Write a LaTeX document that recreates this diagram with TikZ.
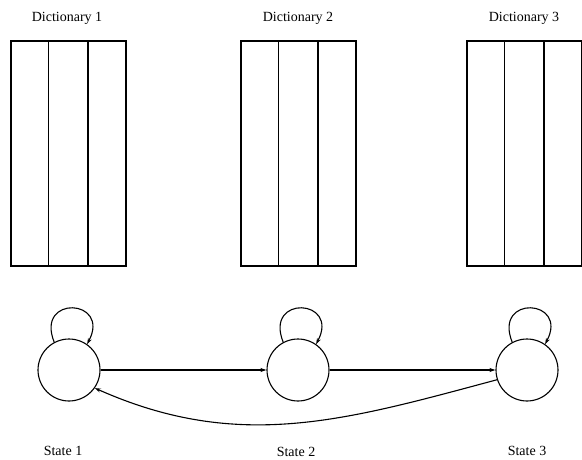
\documentclass[tikz,border=0pt]{standalone}
\usepackage{fontspec}
\setmainfont{Liberation Serif}
\usetikzlibrary{arrows.meta}
\begin{document}
\begin{tikzpicture}[x=1pt,y=-1pt,
  dict/.style={draw, line width=1.1pt},
  state/.style={draw, circle, line width=1.1pt, minimum size=62pt, inner sep=0pt},
  lbl/.style={font=\fontsize{14}{16}\selectfont, inner sep=0pt},
  arr/.style={line width=1.1pt, -{Stealth[length=6pt,width=4pt]}}]
\useasboundingbox (0,0) rectangle (582,460);
% dictionaries
\foreach \x/\n in {11/1,241/2,467/3}{
  \draw[dict] (\x,41) rectangle ++(115,225);
  \draw[dict] (\x+37.5,41) -- ++(0,225);
  \draw[dict] (\x+77,41) -- ++(0,225);
}
\node[lbl] (d1) at (67,18) {Dictionary 1};
\node[lbl] (d2) at (298,18) {Dictionary 2};
\node[lbl] (d3) at (524,18) {Dictionary 3};
% states
\node[state] (s1) at (69,370) {};
\node[state] (s2) at (298,370) {};
\node[state] (s3) at (527,370) {};
\node[lbl] (l1) at (63,451) {State 1};
\node[lbl] (l2) at (296,452) {State 2};
\node[lbl] (l3) at (527,451) {State 3};
% connectors
\draw[arr] (s1) -- (s2);
\draw[arr] (s2) -- (s3);
\draw[arr] (s3.198) to[out=195, in=-24] (s1.-35);
\foreach \s in {s1,s2,s3}{
  \draw[arr] (\s.118) to[out=112, in=62, looseness=4] (\s.55);
}
\end{tikzpicture}
\end{document}
